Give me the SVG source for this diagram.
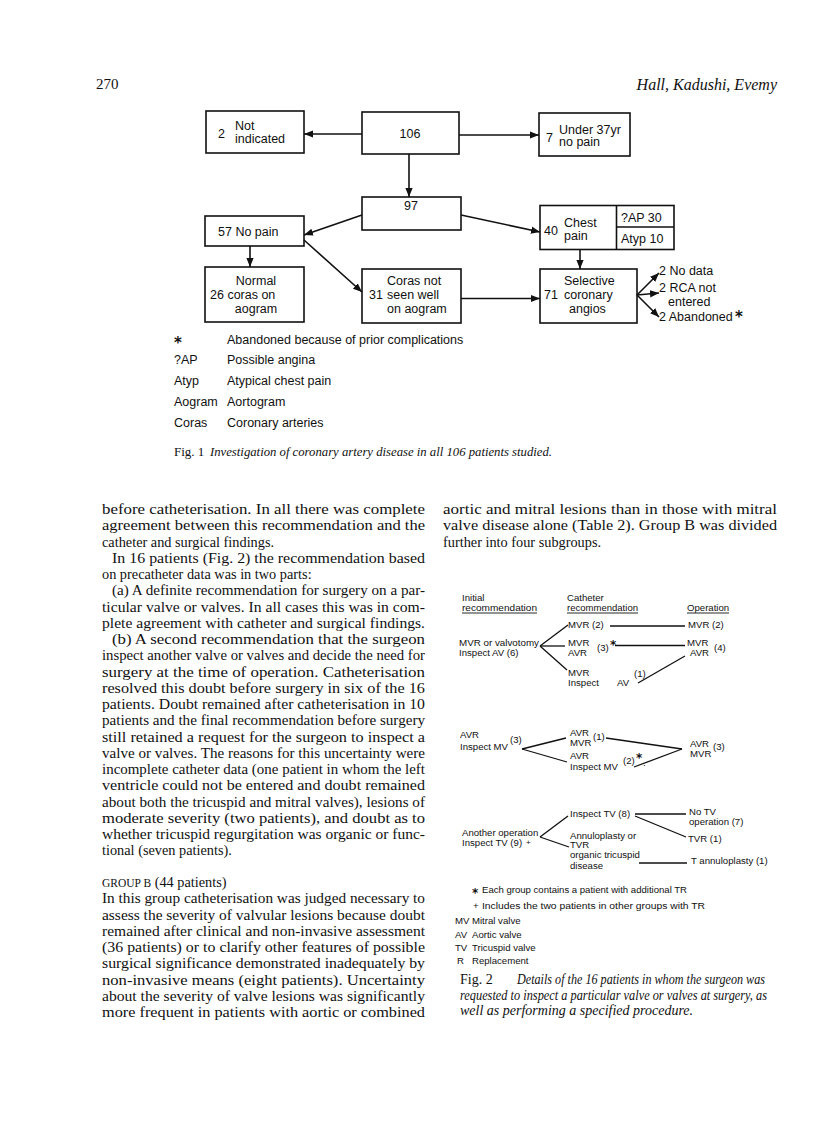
<svg xmlns="http://www.w3.org/2000/svg" width="816" height="1133" viewBox="0 0 816 1133">
<style>
.bg{fill:#fff}
.box{fill:none;stroke:#111;stroke-width:1.6}
.f1{font-family:"Liberation Sans",Arial,sans-serif;font-size:12.5px;fill:#111}
.lg{font-family:"Liberation Sans",Arial,sans-serif;font-size:12.5px;fill:#111}
.f2{font-family:"Liberation Sans",Arial,sans-serif;font-size:9.6px;fill:#111}
.ast{font-family:"DejaVu Sans",sans-serif;font-weight:bold;fill:#111}
.body{font-family:"Liberation Serif","Times New Roman",serif;font-size:14.3px;fill:#111}
.it{font-family:"Liberation Serif","Times New Roman",serif;font-style:italic;fill:#111}
.cap{font-family:"Liberation Serif","Times New Roman",serif;fill:#111}
.con{fill:none;stroke:#111;stroke-width:1.6}
.con2{fill:none;stroke:#111;stroke-width:1.3}
.ul{stroke:#111;stroke-width:0.9}
</style>
<defs>
<marker id="ah" viewBox="0 0 10 10" refX="10" refY="5" markerWidth="9" markerHeight="9" markerUnits="userSpaceOnUse" orient="auto">
<path d="M0,1 L10,5 L0,9 Z" fill="#111"/>
</marker>
</defs>
<rect class="bg" width="816" height="1133"/>

<g id="header">
<text class="cap" x="96" y="89" font-size="15">270</text>
<text class="it" x="777" y="90" font-size="16" text-anchor="end">Hall, Kadushi, Evemy</text>
</g>

<!-- Figure 1 -->
<g id="n-not-indicated">
<rect class="box" x="206" y="111" width="98" height="42"/>
<text class="f1" x="218" y="138">2</text>
<text class="f1" x="235" y="130">Not</text>
<text class="f1" x="235" y="143">indicated</text>
</g>
<g id="n-106">
<rect class="box" x="362" y="112" width="97" height="42"/>
<text class="f1" x="410" y="138" text-anchor="middle">106</text>
</g>
<g id="n-under37">
<rect class="box" x="539" y="113" width="91" height="43"/>
<text class="f1" x="546" y="142">7</text>
<text class="f1" x="559" y="134">Under 37yr</text>
<text class="f1" x="559" y="146">no pain</text>
</g>
<g id="n-97">
<rect class="box" x="362" y="197" width="99" height="33"/>
<text class="f1" x="411" y="210" text-anchor="middle">97</text>
</g>
<g id="n-57">
<rect class="box" x="205" y="216" width="99" height="30"/>
<text class="f1" x="218" y="236">57 No pain</text>
</g>
<g id="n-40">
<rect class="box" x="540" y="205.5" width="134" height="44"/>
<line class="box" x1="616.5" y1="205.5" x2="616.5" y2="249.5"/>
<line class="box" x1="616.5" y1="227" x2="674" y2="227"/>
<text class="f1" x="544" y="235">40</text>
<text class="f1" x="564" y="227">Chest</text>
<text class="f1" x="564" y="240">pain</text>
<text class="f1" x="621" y="222">?AP 30</text>
<text class="f1" x="621" y="243">Atyp 10</text>
</g>
<g id="n-normal">
<rect class="box" x="205" y="267" width="99" height="55"/>
<text class="f1" x="256" y="285" text-anchor="middle">Normal</text>
<text class="f1" x="210" y="299">26 coras on</text>
<text class="f1" x="256" y="313" text-anchor="middle">aogram</text>
</g>
<g id="n-coras">
<rect class="box" x="362" y="269" width="99" height="54"/>
<text class="f1" x="387" y="285">Coras not</text>
<text class="f1" x="369" y="299">31</text>
<text class="f1" x="387" y="299">seen well</text>
<text class="f1" x="387" y="313">on aogram</text>
</g>
<g id="n-selective">
<rect class="box" x="540" y="269" width="97" height="54"/>
<text class="f1" x="564" y="285">Selective</text>
<text class="f1" x="544" y="299">71</text>
<text class="f1" x="564" y="299">coronary</text>
<text class="f1" x="569" y="313">angios</text>
</g>
<g id="n-outcomes">
<text class="f1" x="659" y="275">2 No data</text>
<text class="f1" x="659" y="292">2 RCA not</text>
<text class="f1" x="668" y="305.5">entered</text>
<text class="f1" x="659" y="321">2 Abandoned</text>
<text class="ast" x="735" y="322" font-size="15">*</text>
</g>
<g id="connectors-fig1">
<line class="con" x1="362" y1="134" x2="304" y2="134" marker-end="url(#ah)"/>
<line class="con" x1="459" y1="135" x2="539" y2="135" marker-end="url(#ah)"/>
<line class="con" x1="409" y1="154" x2="409" y2="197" marker-end="url(#ah)"/>
<line class="con" x1="362" y1="215" x2="304" y2="235" marker-end="url(#ah)"/>
<line class="con" x1="461" y1="215" x2="540" y2="232" marker-end="url(#ah)"/>
<line class="con" x1="250" y1="246" x2="250" y2="267" marker-end="url(#ah)"/>
<line class="con" x1="304" y1="240" x2="362" y2="292" marker-end="url(#ah)"/>
<line class="con" x1="461" y1="298.5" x2="540" y2="298.5" marker-end="url(#ah)"/>
<line class="con" x1="580" y1="249.5" x2="580" y2="269" marker-end="url(#ah)"/>
<line class="con" x1="637" y1="295" x2="659" y2="273" marker-end="url(#ah)"/>
<line class="con" x1="637" y1="295" x2="659" y2="293" marker-end="url(#ah)"/>
<line class="con" x1="637" y1="295" x2="659" y2="317" marker-end="url(#ah)"/>
</g>
<g id="legend-fig1">
<text class="ast" x="174" y="348" font-size="15">*</text>
<text class="lg" x="227" y="344">Abandoned because of prior complications</text>
<text class="lg" x="174" y="364">?AP</text>
<text class="lg" x="227" y="364">Possible angina</text>
<text class="lg" x="174" y="385">Atyp</text>
<text class="lg" x="227" y="385">Atypical chest pain</text>
<text class="lg" x="174" y="406">Aogram</text>
<text class="lg" x="227" y="406">Aortogram</text>
<text class="lg" x="174" y="427">Coras</text>
<text class="lg" x="227" y="427">Coronary arteries</text>
</g>
<g id="caption-fig1">
<text class="cap" x="174" y="456" font-size="13">Fig. 1</text>
<text class="it" x="210" y="456" font-size="13" textLength="342" lengthAdjust="spacingAndGlyphs">Investigation of coronary artery disease in all 106 patients studied.</text>
</g>

<!-- Body text left column -->
<g id="body-left" class="body">
<text x="102" y="514" textLength="323" lengthAdjust="spacingAndGlyphs">before catheterisation. In all there was complete</text>
<text x="102" y="530.25" textLength="323" lengthAdjust="spacingAndGlyphs">agreement between this recommendation and the</text>
<text x="102" y="546.5">catheter and surgical findings.</text>
<text x="112" y="562.75" textLength="313" lengthAdjust="spacingAndGlyphs">In 16 patients (Fig. 2) the recommendation based</text>
<text x="102" y="579">on precatheter data was in two parts:</text>
<text x="112" y="595.25" textLength="313" lengthAdjust="spacingAndGlyphs">(a) A definite recommendation for surgery on a par-</text>
<text x="102" y="611.5" textLength="323" lengthAdjust="spacingAndGlyphs">ticular valve or valves. In all cases this was in com-</text>
<text x="102" y="627.75" textLength="323" lengthAdjust="spacingAndGlyphs">plete agreement with catheter and surgical findings.</text>
<text x="112" y="644" textLength="313" lengthAdjust="spacingAndGlyphs">(b) A second recommendation that the surgeon</text>
<text x="102" y="660.25" textLength="323" lengthAdjust="spacingAndGlyphs">inspect another valve or valves and decide the need for</text>
<text x="102" y="676.5" textLength="323" lengthAdjust="spacingAndGlyphs">surgery at the time of operation. Catheterisation</text>
<text x="102" y="692.75" textLength="323" lengthAdjust="spacingAndGlyphs">resolved this doubt before surgery in six of the 16</text>
<text x="102" y="709" textLength="323" lengthAdjust="spacingAndGlyphs">patients. Doubt remained after catheterisation in 10</text>
<text x="102" y="725.25" textLength="323" lengthAdjust="spacingAndGlyphs">patients and the final recommendation before surgery</text>
<text x="102" y="741.5" textLength="323" lengthAdjust="spacingAndGlyphs">still retained a request for the surgeon to inspect a</text>
<text x="102" y="757.75" textLength="323" lengthAdjust="spacingAndGlyphs">valve or valves. The reasons for this uncertainty were</text>
<text x="102" y="774" textLength="323" lengthAdjust="spacingAndGlyphs">incomplete catheter data (one patient in whom the left</text>
<text x="102" y="790.25" textLength="323" lengthAdjust="spacingAndGlyphs">ventricle could not be entered and doubt remained</text>
<text x="102" y="806.5" textLength="323" lengthAdjust="spacingAndGlyphs">about both the tricuspid and mitral valves), lesions of</text>
<text x="102" y="822.75" textLength="323" lengthAdjust="spacingAndGlyphs">moderate severity (two patients), and doubt as to</text>
<text x="102" y="839" textLength="323" lengthAdjust="spacingAndGlyphs">whether tricuspid regurgitation was organic or func-</text>
<text x="102" y="855.25">tional (seven patients).</text>
<text x="102" y="887"><tspan font-size="11.5">GROUP B</tspan> (44 patients)</text>
<text x="102" y="903.25" textLength="323" lengthAdjust="spacingAndGlyphs">In this group catheterisation was judged necessary to</text>
<text x="102" y="919.5" textLength="323" lengthAdjust="spacingAndGlyphs">assess the severity of valvular lesions because doubt</text>
<text x="102" y="935.75" textLength="323" lengthAdjust="spacingAndGlyphs">remained after clinical and non-invasive assessment</text>
<text x="102" y="952" textLength="323" lengthAdjust="spacingAndGlyphs">(36 patients) or to clarify other features of possible</text>
<text x="102" y="968.25" textLength="323" lengthAdjust="spacingAndGlyphs">surgical significance demonstrated inadequately by</text>
<text x="102" y="984.5" textLength="323" lengthAdjust="spacingAndGlyphs">non-invasive means (eight patients). Uncertainty</text>
<text x="102" y="1000.75" textLength="323" lengthAdjust="spacingAndGlyphs">about the severity of valve lesions was significantly</text>
<text x="102" y="1017" textLength="323" lengthAdjust="spacingAndGlyphs">more frequent in patients with aortic or combined</text>
</g>
<g id="body-right" class="body">
<text x="443" y="514" textLength="334" lengthAdjust="spacingAndGlyphs">aortic and mitral lesions than in those with mitral</text>
<text x="443" y="530.25" textLength="334" lengthAdjust="spacingAndGlyphs">valve disease alone (Table 2). Group B was divided</text>
<text x="443" y="546.5">further into four subgroups.</text>
</g>

<!-- Figure 2 -->
<g id="f2-headers" class="f2">
<text x="462" y="601">Initial</text>
<text x="462" y="610.5" textLength="75" lengthAdjust="spacingAndGlyphs">recommendation</text>
<line class="ul" x1="462" y1="613" x2="537" y2="613"/>
<text x="567" y="601">Catheter</text>
<text x="567" y="610.5" textLength="71" lengthAdjust="spacingAndGlyphs">recommendation</text>
<line class="ul" x1="567" y1="613" x2="638" y2="613"/>
<text x="687" y="610.5">Operation</text>
<line class="ul" x1="687" y1="613" x2="729" y2="613"/>
</g>
<g id="f2-g1-initial" class="f2">
<text x="459" y="645.5" textLength="80" lengthAdjust="spacingAndGlyphs">MVR or valvotomy</text>
<text x="459" y="656">Inspect AV (6)</text>
</g>
<g id="f2-g1-cat1" class="f2">
<text x="568" y="628">MVR</text>
<text x="592" y="628">(2)</text>
</g>
<g id="f2-g1-cat2" class="f2">
<text x="568" y="645.5">MVR</text>
<text x="568" y="655.5">AVR</text>
<text x="597" y="651">(3)</text>
<text class="ast" x="610" y="649" font-size="12">*</text>
</g>
<g id="f2-g1-cat3" class="f2">
<text x="568" y="676">MVR</text>
<text x="568" y="686">Inspect</text>
<text x="617" y="686">AV</text>
<text x="634" y="677">(1)</text>
</g>
<g id="f2-g1-op1" class="f2">
<text x="688" y="628">MVR (2)</text>
</g>
<g id="f2-g1-op2" class="f2">
<text x="687" y="646">MVR</text>
<text x="690" y="656">AVR</text>
<text x="714" y="651">(4)</text>
</g>
<g id="f2-g2-initial" class="f2">
<text x="460" y="738">AVR</text>
<text x="460" y="750">Inspect MV</text>
<text x="510" y="743">(3)</text>
</g>
<g id="f2-g2-cat1" class="f2">
<text x="570" y="736">AVR</text>
<text x="570" y="746">MVR</text>
<text x="593" y="740">(1)</text>
</g>
<g id="f2-g2-cat2" class="f2">
<text x="570" y="759">AVR</text>
<text x="570" y="770">Inspect MV</text>
<text x="623" y="764">(2)</text>
<text class="ast" x="636" y="762" font-size="12">*</text>
<text x="643" y="766">.</text>
</g>
<g id="f2-g2-op" class="f2">
<text x="690" y="747">AVR</text>
<text x="690" y="757">MVR</text>
<text x="713" y="750">(3)</text>
</g>
<g id="f2-g3-initial" class="f2">
<text x="462" y="836">Another operation</text>
<text x="462" y="846">Inspect TV (9)</text>
<text x="526" y="844.5" font-size="8">+</text>
</g>
<g id="f2-g3-cat1" class="f2">
<text x="570" y="817">Inspect TV (8)</text>
</g>
<g id="f2-g3-cat2" class="f2">
<text x="570" y="838.5">Annuloplasty or</text>
<text x="570" y="848">TVR</text>
<text x="570" y="858">organic tricuspid</text>
<text x="570" y="868.5">disease</text>
</g>
<g id="f2-g3-op1" class="f2">
<text x="689" y="815">No TV</text>
<text x="689" y="825">operation (7)</text>
</g>
<g id="f2-g3-op2" class="f2">
<text x="688" y="842">TVR (1)</text>
</g>
<g id="f2-g3-op3" class="f2">
<text x="691" y="864">T annuloplasty (1)</text>
</g>
<g id="connectors-fig2">
<line class="con2" x1="540" y1="646" x2="568" y2="625"/>
<line class="con2" x1="540" y1="646" x2="565" y2="646"/>
<line class="con2" x1="540" y1="646" x2="567" y2="670"/>
<line class="con2" x1="610" y1="626" x2="685" y2="626"/>
<line class="con2" x1="615" y1="645.5" x2="685" y2="645.5"/>
<line class="con2" x1="638" y1="683" x2="685" y2="656"/>
<line class="con2" x1="522" y1="749" x2="566" y2="738"/>
<line class="con2" x1="522" y1="749" x2="567" y2="762"/>
<line class="con2" x1="606" y1="738" x2="682" y2="749"/>
<line class="con2" x1="634" y1="767" x2="682" y2="749"/>
<line class="con2" x1="540" y1="837" x2="568" y2="816"/>
<line class="con2" x1="540" y1="837" x2="569" y2="847"/>
<line class="con2" x1="635" y1="814" x2="686" y2="814"/>
<line class="con2" x1="635" y1="816" x2="686" y2="837"/>
<line class="con2" x1="639" y1="863" x2="687" y2="863"/>
</g>
<g id="legend-fig2" class="f2">
<text class="ast" x="472" y="897" font-size="12">*</text>
<text x="482" y="893" textLength="205" lengthAdjust="spacingAndGlyphs">Each group contains a patient with additional TR</text>
<text x="473" y="909">+</text>
<text x="482" y="909" textLength="223" lengthAdjust="spacingAndGlyphs">Includes the two patients in other groups with TR</text>
<text x="455" y="924">MV</text>
<text x="472" y="924">Mitral valve</text>
<text x="455" y="938">AV</text>
<text x="472" y="938">Aortic valve</text>
<text x="455" y="951">TV</text>
<text x="472" y="951">Tricuspid valve</text>
<text x="457" y="964">R</text>
<text x="472" y="964">Replacement</text>
</g>
<g id="caption-fig2">
<text class="cap" x="460" y="984" font-size="14">Fig. 2</text>
<text class="it" x="517" y="984" font-size="14" textLength="248" lengthAdjust="spacingAndGlyphs">Details of the 16 patients in whom the surgeon was</text>
<text class="it" x="460" y="999.5" font-size="14" textLength="307" lengthAdjust="spacingAndGlyphs">requested to inspect a particular valve or valves at surgery, as</text>
<text class="it" x="460" y="1015" font-size="14">well as performing a specified procedure.</text>
</g>
</svg>
